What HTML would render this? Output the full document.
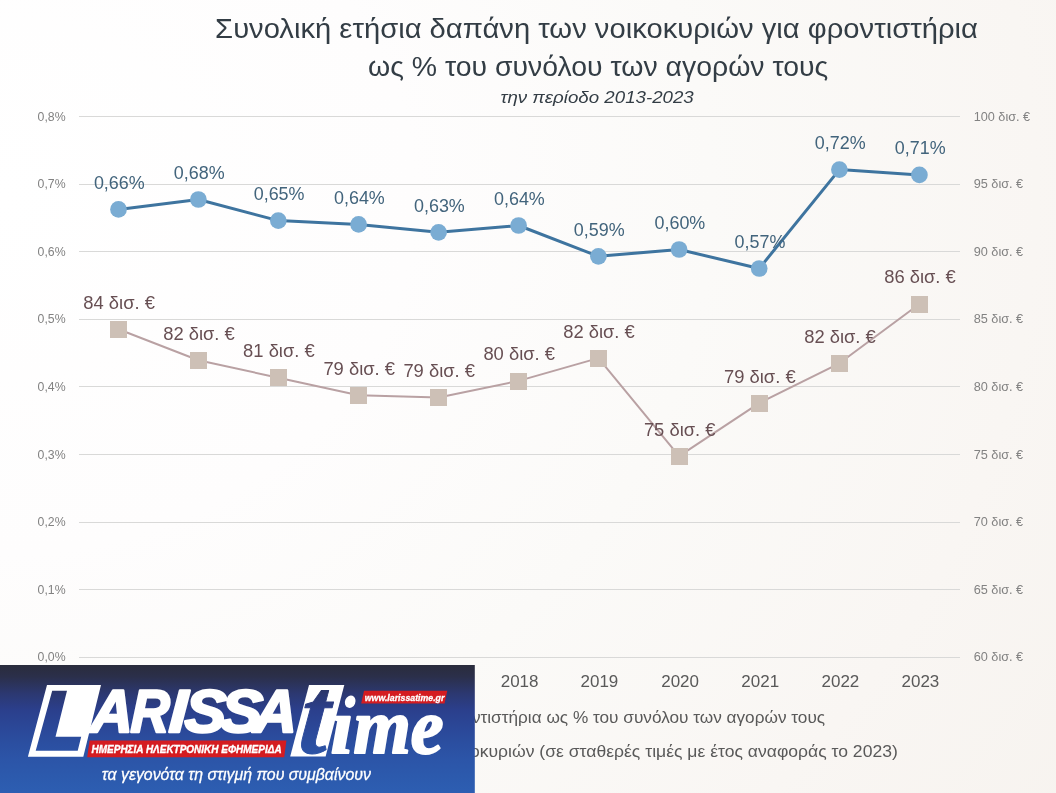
<!DOCTYPE html>
<html lang="el">
<head>
<meta charset="utf-8">
<title>Συνολική ετήσια δαπάνη των νοικοκυριών για φροντιστήρια</title>
<style>
html, body { margin: 0; padding: 0; }
body { width: 1056px; height: 793px; overflow: hidden; background: #fbfaf9; font-family: "Liberation Sans", sans-serif; }
#page { position: relative; width: 1056px; height: 793px; overflow: hidden;
  background: radial-gradient(ellipse 140% 160% at 0% 25%, #ffffff 0%, #fefdfd 28%, #fbfaf8 48%, #f9f6f3 70%, #f5f1ec 100%); }
svg { position: absolute; left: 0; top: 0; display: block; font-family: "Liberation Sans", sans-serif; will-change: transform; }
</style>
</head>
<body>
<div id="page">
<svg width="1056" height="793" viewBox="0 0 1056 793">
<defs>
<linearGradient id="lg" gradientUnits="userSpaceOnUse" x1="0" y1="665" x2="0" y2="793">
<stop offset="0" stop-color="#2a2c3c"/>
<stop offset="0.09" stop-color="#2b2f4a"/>
<stop offset="0.22" stop-color="#2c3870"/>
<stop offset="0.35" stop-color="#2b3f8c"/>
<stop offset="0.48" stop-color="#2b4797"/>
<stop offset="0.62" stop-color="#2b4fa1"/>
<stop offset="0.74" stop-color="#2c55a8"/>
<stop offset="0.875" stop-color="#2c5aad"/>
<stop offset="1" stop-color="#2d5eb2"/>
</linearGradient>
<linearGradient id="lg2" gradientUnits="userSpaceOnUse" x1="0" y1="-87.4" x2="0" y2="40.6">
<stop offset="0" stop-color="#2a2c3c"/>
<stop offset="0.09" stop-color="#2b2f4a"/>
<stop offset="0.22" stop-color="#2c3870"/>
<stop offset="0.35" stop-color="#2b3f8c"/>
<stop offset="0.48" stop-color="#2b4797"/>
<stop offset="0.62" stop-color="#2b4fa1"/>
<stop offset="0.74" stop-color="#2c55a8"/>
<stop offset="0.875" stop-color="#2c5aad"/>
<stop offset="1" stop-color="#2d5eb2"/>
</linearGradient>
</defs>
<line x1="79.3" x2="959.5" y1="116.5" y2="116.5" stroke="#d9d9d8" stroke-width="1" shape-rendering="crispEdges"/>
<line x1="79.3" x2="959.5" y1="184.5" y2="184.5" stroke="#d9d9d8" stroke-width="1" shape-rendering="crispEdges"/>
<line x1="79.3" x2="959.5" y1="251.5" y2="251.5" stroke="#d9d9d8" stroke-width="1" shape-rendering="crispEdges"/>
<line x1="79.3" x2="959.5" y1="319.5" y2="319.5" stroke="#d9d9d8" stroke-width="1" shape-rendering="crispEdges"/>
<line x1="79.3" x2="959.5" y1="386.5" y2="386.5" stroke="#d9d9d8" stroke-width="1" shape-rendering="crispEdges"/>
<line x1="79.3" x2="959.5" y1="454.5" y2="454.5" stroke="#d9d9d8" stroke-width="1" shape-rendering="crispEdges"/>
<line x1="79.3" x2="959.5" y1="522.5" y2="522.5" stroke="#d9d9d8" stroke-width="1" shape-rendering="crispEdges"/>
<line x1="79.3" x2="959.5" y1="589.5" y2="589.5" stroke="#d9d9d8" stroke-width="1" shape-rendering="crispEdges"/>
<line x1="79.3" x2="959.5" y1="657.5" y2="657.5" stroke="#d9d9d8" stroke-width="1" shape-rendering="crispEdges"/>
<text x="37.6" y="120.6" font-size="12" fill="#828282" text-anchor="start" textLength="28.0" lengthAdjust="spacingAndGlyphs" >0,8%</text>
<text x="973.7" y="120.6" font-size="12" fill="#828282" text-anchor="start" textLength="56.4" lengthAdjust="spacingAndGlyphs" >100 δισ. €</text>
<text x="37.6" y="188.2" font-size="12" fill="#828282" text-anchor="start" textLength="28.0" lengthAdjust="spacingAndGlyphs" >0,7%</text>
<text x="973.7" y="188.2" font-size="12" fill="#828282" text-anchor="start" textLength="49.5" lengthAdjust="spacingAndGlyphs" >95 δισ. €</text>
<text x="37.6" y="255.8" font-size="12" fill="#828282" text-anchor="start" textLength="28.0" lengthAdjust="spacingAndGlyphs" >0,6%</text>
<text x="973.7" y="255.8" font-size="12" fill="#828282" text-anchor="start" textLength="49.5" lengthAdjust="spacingAndGlyphs" >90 δισ. €</text>
<text x="37.6" y="323.4" font-size="12" fill="#828282" text-anchor="start" textLength="28.0" lengthAdjust="spacingAndGlyphs" >0,5%</text>
<text x="973.7" y="323.4" font-size="12" fill="#828282" text-anchor="start" textLength="49.5" lengthAdjust="spacingAndGlyphs" >85 δισ. €</text>
<text x="37.6" y="391.0" font-size="12" fill="#828282" text-anchor="start" textLength="28.0" lengthAdjust="spacingAndGlyphs" >0,4%</text>
<text x="973.7" y="391.0" font-size="12" fill="#828282" text-anchor="start" textLength="49.5" lengthAdjust="spacingAndGlyphs" >80 δισ. €</text>
<text x="37.6" y="458.6" font-size="12" fill="#828282" text-anchor="start" textLength="28.0" lengthAdjust="spacingAndGlyphs" >0,3%</text>
<text x="973.7" y="458.6" font-size="12" fill="#828282" text-anchor="start" textLength="49.5" lengthAdjust="spacingAndGlyphs" >75 δισ. €</text>
<text x="37.6" y="526.2" font-size="12" fill="#828282" text-anchor="start" textLength="28.0" lengthAdjust="spacingAndGlyphs" >0,2%</text>
<text x="973.7" y="526.2" font-size="12" fill="#828282" text-anchor="start" textLength="49.5" lengthAdjust="spacingAndGlyphs" >70 δισ. €</text>
<text x="37.6" y="593.8" font-size="12" fill="#828282" text-anchor="start" textLength="28.0" lengthAdjust="spacingAndGlyphs" >0,1%</text>
<text x="973.7" y="593.8" font-size="12" fill="#828282" text-anchor="start" textLength="49.5" lengthAdjust="spacingAndGlyphs" >65 δισ. €</text>
<text x="37.6" y="661.4" font-size="12" fill="#828282" text-anchor="start" textLength="28.0" lengthAdjust="spacingAndGlyphs" >0,0%</text>
<text x="973.7" y="661.4" font-size="12" fill="#828282" text-anchor="start" textLength="49.5" lengthAdjust="spacingAndGlyphs" >60 δισ. €</text>
<polyline points="118.5,329.2 198.4,360.3 278.3,377.7 358.6,395.2 438.6,397.4 518.6,380.9 598.4,358.1 679.1,456.2 759.2,403.1 839.4,363.3 919.4,304.0" fill="none" stroke="#b9a1a3" stroke-width="2" stroke-linejoin="round"/>
<rect x="110" y="321" width="17" height="17" fill="#cdc0b6"/>
<rect x="190" y="352" width="17" height="17" fill="#cdc0b6"/>
<rect x="270" y="369" width="17" height="17" fill="#cdc0b6"/>
<rect x="350" y="387" width="17" height="17" fill="#cdc0b6"/>
<rect x="430" y="389" width="17" height="17" fill="#cdc0b6"/>
<rect x="510" y="373" width="17" height="17" fill="#cdc0b6"/>
<rect x="590" y="350" width="17" height="17" fill="#cdc0b6"/>
<rect x="671" y="448" width="17" height="17" fill="#cdc0b6"/>
<rect x="751" y="395" width="17" height="17" fill="#cdc0b6"/>
<rect x="831" y="355" width="17" height="17" fill="#cdc0b6"/>
<rect x="911" y="296" width="17" height="17" fill="#cdc0b6"/>
<polyline points="118.5,209.4 198.4,199.5 278.3,220.6 358.6,224.4 438.6,232.3 518.6,225.5 598.4,256.3 679.1,249.5 759.2,268.5 839.4,169.6 919.4,174.9" fill="none" stroke="#3e749f" stroke-width="3.0" stroke-linejoin="round"/>
<circle cx="118.5" cy="209.4" r="8.35" fill="#7aacd3"/>
<circle cx="198.4" cy="199.5" r="8.35" fill="#7aacd3"/>
<circle cx="278.3" cy="220.6" r="8.35" fill="#7aacd3"/>
<circle cx="358.6" cy="224.4" r="8.35" fill="#7aacd3"/>
<circle cx="438.6" cy="232.3" r="8.35" fill="#7aacd3"/>
<circle cx="518.6" cy="225.5" r="8.35" fill="#7aacd3"/>
<circle cx="598.4" cy="256.3" r="8.35" fill="#7aacd3"/>
<circle cx="679.1" cy="249.5" r="8.35" fill="#7aacd3"/>
<circle cx="759.2" cy="268.5" r="8.35" fill="#7aacd3"/>
<circle cx="839.4" cy="169.6" r="8.35" fill="#7aacd3"/>
<circle cx="919.4" cy="174.9" r="8.35" fill="#7aacd3"/>
<text x="83.3" y="308.6" font-size="17.5" fill="#674f53" text-anchor="start" textLength="71.6" lengthAdjust="spacingAndGlyphs" >84 δισ. €</text>
<text x="163.2" y="339.7" font-size="17.5" fill="#674f53" text-anchor="start" textLength="71.6" lengthAdjust="spacingAndGlyphs" >82 δισ. €</text>
<text x="243.1" y="357.1" font-size="17.5" fill="#674f53" text-anchor="start" textLength="71.6" lengthAdjust="spacingAndGlyphs" >81 δισ. €</text>
<text x="323.4" y="374.6" font-size="17.5" fill="#674f53" text-anchor="start" textLength="71.6" lengthAdjust="spacingAndGlyphs" >79 δισ. €</text>
<text x="403.4" y="376.8" font-size="17.5" fill="#674f53" text-anchor="start" textLength="71.6" lengthAdjust="spacingAndGlyphs" >79 δισ. €</text>
<text x="483.4" y="360.3" font-size="17.5" fill="#674f53" text-anchor="start" textLength="71.6" lengthAdjust="spacingAndGlyphs" >80 δισ. €</text>
<text x="563.2" y="337.5" font-size="17.5" fill="#674f53" text-anchor="start" textLength="71.6" lengthAdjust="spacingAndGlyphs" >82 δισ. €</text>
<text x="643.9" y="435.6" font-size="17.5" fill="#674f53" text-anchor="start" textLength="71.6" lengthAdjust="spacingAndGlyphs" >75 δισ. €</text>
<text x="724.0" y="382.5" font-size="17.5" fill="#674f53" text-anchor="start" textLength="71.6" lengthAdjust="spacingAndGlyphs" >79 δισ. €</text>
<text x="804.2" y="342.7" font-size="17.5" fill="#674f53" text-anchor="start" textLength="71.6" lengthAdjust="spacingAndGlyphs" >82 δισ. €</text>
<text x="884.2" y="283.4" font-size="17.5" fill="#674f53" text-anchor="start" textLength="71.6" lengthAdjust="spacingAndGlyphs" >86 δισ. €</text>
<text x="93.9" y="188.6" font-size="17.5" fill="#42647c" text-anchor="start" textLength="50.8" lengthAdjust="spacingAndGlyphs" >0,66%</text>
<text x="173.8" y="178.7" font-size="17.5" fill="#42647c" text-anchor="start" textLength="50.8" lengthAdjust="spacingAndGlyphs" >0,68%</text>
<text x="253.7" y="199.8" font-size="17.5" fill="#42647c" text-anchor="start" textLength="50.8" lengthAdjust="spacingAndGlyphs" >0,65%</text>
<text x="334.0" y="203.6" font-size="17.5" fill="#42647c" text-anchor="start" textLength="50.8" lengthAdjust="spacingAndGlyphs" >0,64%</text>
<text x="414.0" y="211.5" font-size="17.5" fill="#42647c" text-anchor="start" textLength="50.8" lengthAdjust="spacingAndGlyphs" >0,63%</text>
<text x="494.0" y="204.7" font-size="17.5" fill="#42647c" text-anchor="start" textLength="50.8" lengthAdjust="spacingAndGlyphs" >0,64%</text>
<text x="573.8" y="235.5" font-size="17.5" fill="#42647c" text-anchor="start" textLength="50.8" lengthAdjust="spacingAndGlyphs" >0,59%</text>
<text x="654.5" y="228.7" font-size="17.5" fill="#42647c" text-anchor="start" textLength="50.8" lengthAdjust="spacingAndGlyphs" >0,60%</text>
<text x="734.6" y="247.7" font-size="17.5" fill="#42647c" text-anchor="start" textLength="50.8" lengthAdjust="spacingAndGlyphs" >0,57%</text>
<text x="814.8" y="148.8" font-size="17.5" fill="#42647c" text-anchor="start" textLength="50.8" lengthAdjust="spacingAndGlyphs" >0,72%</text>
<text x="894.8" y="154.1" font-size="17.5" fill="#42647c" text-anchor="start" textLength="50.8" lengthAdjust="spacingAndGlyphs" >0,71%</text>
<text x="100.6" y="686.9" font-size="16.7" fill="#595959" text-anchor="start" textLength="37.8" lengthAdjust="spacingAndGlyphs" >2013</text>
<text x="180.5" y="686.9" font-size="16.7" fill="#595959" text-anchor="start" textLength="37.8" lengthAdjust="spacingAndGlyphs" >2014</text>
<text x="260.4" y="686.9" font-size="16.7" fill="#595959" text-anchor="start" textLength="37.8" lengthAdjust="spacingAndGlyphs" >2015</text>
<text x="340.7" y="686.9" font-size="16.7" fill="#595959" text-anchor="start" textLength="37.8" lengthAdjust="spacingAndGlyphs" >2016</text>
<text x="420.7" y="686.9" font-size="16.7" fill="#595959" text-anchor="start" textLength="37.8" lengthAdjust="spacingAndGlyphs" >2017</text>
<text x="500.7" y="686.9" font-size="16.7" fill="#595959" text-anchor="start" textLength="37.8" lengthAdjust="spacingAndGlyphs" >2018</text>
<text x="580.5" y="686.9" font-size="16.7" fill="#595959" text-anchor="start" textLength="37.8" lengthAdjust="spacingAndGlyphs" >2019</text>
<text x="661.2" y="686.9" font-size="16.7" fill="#595959" text-anchor="start" textLength="37.8" lengthAdjust="spacingAndGlyphs" >2020</text>
<text x="741.3" y="686.9" font-size="16.7" fill="#595959" text-anchor="start" textLength="37.8" lengthAdjust="spacingAndGlyphs" >2021</text>
<text x="821.5" y="686.9" font-size="16.7" fill="#595959" text-anchor="start" textLength="37.8" lengthAdjust="spacingAndGlyphs" >2022</text>
<text x="901.5" y="686.9" font-size="16.7" fill="#595959" text-anchor="start" textLength="37.8" lengthAdjust="spacingAndGlyphs" >2023</text>
<text x="215.1" y="38.3" font-size="27" fill="#333d45" text-anchor="start" textLength="762.8" lengthAdjust="spacingAndGlyphs" >Συνολική ετήσια δαπάνη των νοικοκυριών για φροντιστήρια</text>
<text x="368.0" y="76.4" font-size="27" fill="#333d45" text-anchor="start" textLength="460.3" lengthAdjust="spacingAndGlyphs" >ως % του συνόλου των αγορών τους</text>
<text x="500.4" y="102.8" font-size="17" fill="#333d45" text-anchor="start" textLength="193.4" lengthAdjust="spacingAndGlyphs" font-style="italic" >την περίοδο 2013-2023</text>
<text x="825.1" y="723.4" font-size="17" fill="#595959" text-anchor="end" textLength="733.0" lengthAdjust="spacingAndGlyphs" >Συνολική ετήσια δαπάνη των νοικοκυριών για φροντιστήρια ως % του συνόλου των αγορών τους</text>
<text x="897.8" y="757.3" font-size="17" fill="#595959" text-anchor="end" textLength="634.1" lengthAdjust="spacingAndGlyphs" >Συνολικές αγορές των νοικοκυριών (σε σταθερές τιμές με έτος αναφοράς το 2023)</text>
<g id="logo">
<rect x="0" y="665" width="474.8" height="128" fill="url(#lg)"/>
<path fill-rule="evenodd" fill="#fff" d="M47,685 L101,685 L83.3,756.8 L27.9,756.8 Z M52.2,690.7 L67,690.7 L55.5,736.8 L81.2,736.8 L77.7,750.8 L35.7,750.8 Z"/>
<text transform="translate(89.87,731.9) scale(0.9833,1) skewX(-2.5)" font-size="60.3" font-weight="bold" font-style="italic" fill="#fff" stroke="#fff" stroke-width="2.5" stroke-linejoin="round">A</text>
<text transform="translate(130.2,731.9) scale(0.8848,1) skewX(-2.5)" font-size="60.3" font-weight="bold" font-style="italic" fill="#fff" stroke="#fff" stroke-width="2.5" stroke-linejoin="round">R</text>
<text transform="translate(168.3,731.9) scale(1.0905,1) skewX(-2.5)" font-size="60.3" font-weight="bold" font-style="italic" fill="#fff" stroke="#fff" stroke-width="2.5" stroke-linejoin="round">I</text>
<text transform="translate(184.0,731.9) scale(1.0357,1) skewX(-2.5)" font-size="60.3" font-weight="bold" font-style="italic" fill="#fff" stroke="#fff" stroke-width="2.5" stroke-linejoin="round">S</text>
<text transform="translate(219.7,731.9) scale(1.0476,1) skewX(-2.5)" font-size="60.3" font-weight="bold" font-style="italic" fill="#fff" stroke="#fff" stroke-width="2.5" stroke-linejoin="round">S</text>
<text transform="translate(253.19,731.9) scale(0.9929,1) skewX(-2.5)" font-size="60.3" font-weight="bold" font-style="italic" fill="#fff" stroke="#fff" stroke-width="2.5" stroke-linejoin="round">A</text>
<polygon points="89.6,740.6 286.4,740.6 284.2,757.2 87.2,757.2" fill="#d41c21"/>
<text x="91.6" y="753.2" font-size="10.3" fill="#fff" text-anchor="start" textLength="190.0" lengthAdjust="spacingAndGlyphs" font-style="italic" font-weight="bold" stroke="#fff" stroke-width="0.35">ΗΜΕΡΗΣΙΑ ΗΛΕΚΤΡΟΝΙΚΗ ΕΦΗΜΕΡΙΔΑ</text>
<polygon points="309,685 344.3,685 325.6,756.5 290.2,756.5" fill="#fff"/>
<text transform="translate(297.2,752.7) scale(0.934,1.0) skewX(-6)" font-size="111" font-style="italic" font-weight="bold" font-family='"Liberation Serif", serif' fill="url(#lg2)" stroke="url(#lg2)" stroke-width="1.0" stroke-linejoin="round">t</text>
<text x="330.8" y="752.6" font-size="78" fill="#fff" text-anchor="start" textLength="22.4" lengthAdjust="spacingAndGlyphs" font-style="italic" font-weight="bold" font-family='"Liberation Serif", serif' stroke="#fff" stroke-width="2.2" stroke-linejoin="round">ı</text>
<text x="353.4" y="752.6" font-size="78" fill="#fff" text-anchor="start" textLength="90.0" lengthAdjust="spacingAndGlyphs" font-style="italic" font-weight="bold" font-family='"Liberation Serif", serif' stroke="#fff" stroke-width="2.2" stroke-linejoin="round">me</text>
<ellipse cx="350.2" cy="701.7" rx="5.2" ry="6.3" fill="#fff" transform="rotate(22 350.2 701.7)"/>
<polygon points="364.0,690.8 447.3,690.8 444.5,703.6 361.2,703.6" fill="#d41c21"/>
<text x="364.8" y="700.9" font-size="9.4" fill="#fff" text-anchor="start" textLength="79.6" lengthAdjust="spacingAndGlyphs" font-style="italic" font-weight="bold" stroke="#fff" stroke-width="0.3">www.larissatime.gr</text>
<text x="101.8" y="780.3" font-size="16.5" fill="#fff" text-anchor="start" textLength="269.1" lengthAdjust="spacingAndGlyphs" font-style="italic" stroke="#fff" stroke-width="0.3">τα γεγονότα τη στιγμή που συμβαίνουν</text>
</g>
</svg>
</div>
</body>
</html>
